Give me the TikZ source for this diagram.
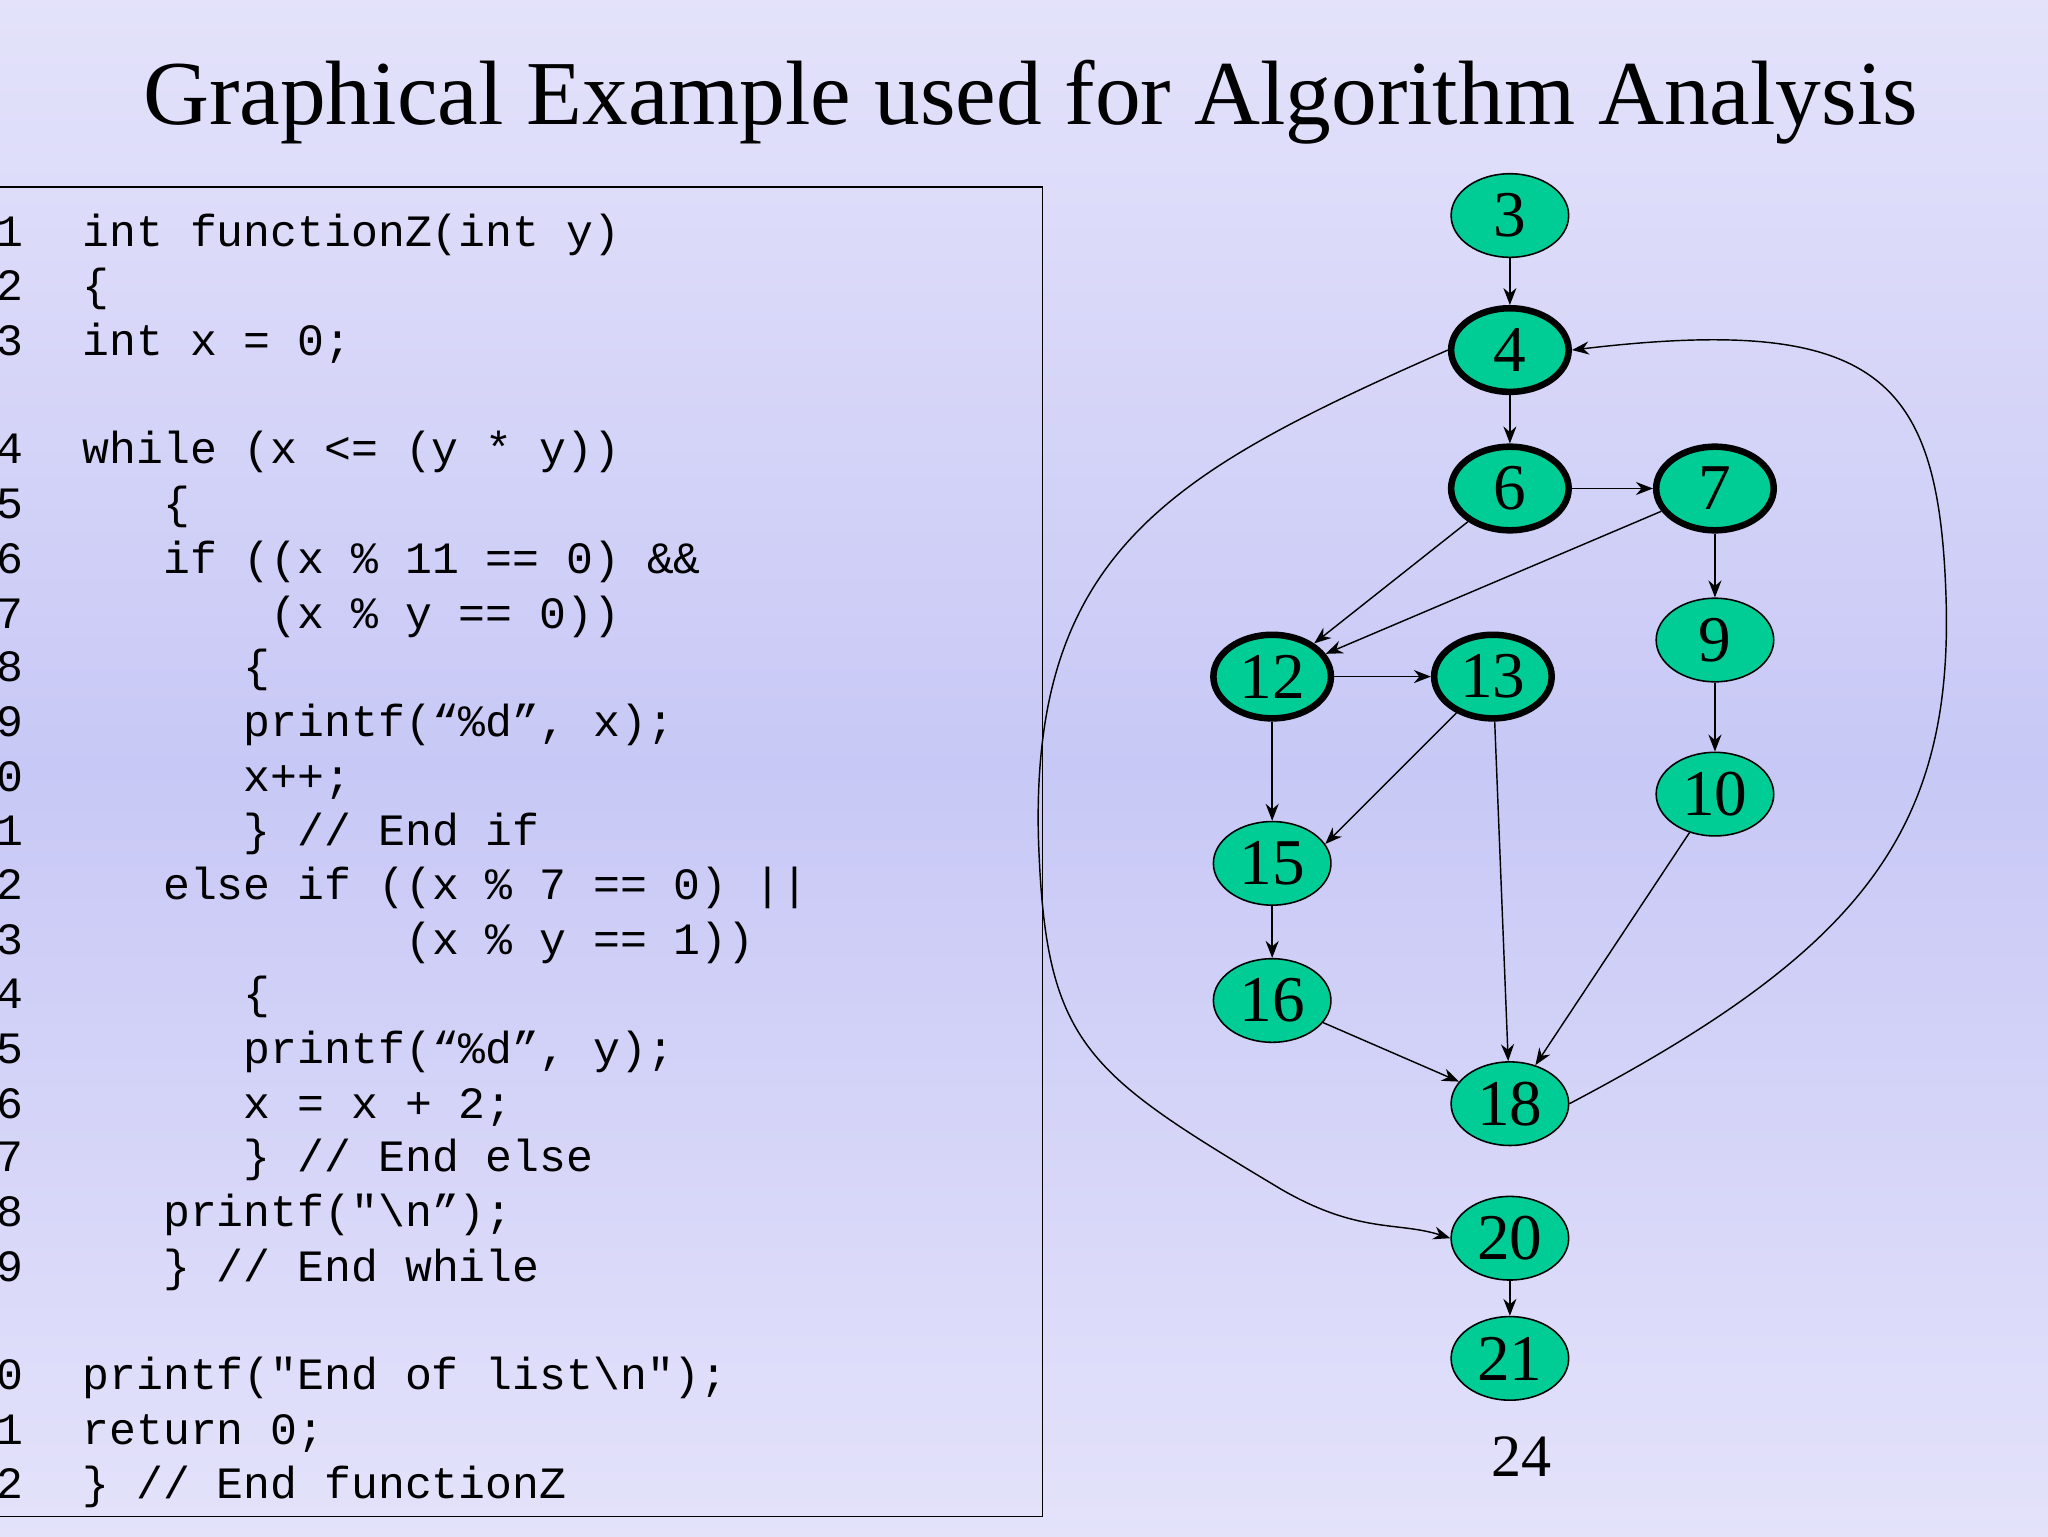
\documentclass[tikz,border=0pt]{standalone}
\usepackage{fontspec}
\setmainfont{Liberation Serif}
\setmonofont{Liberation Mono}
\usetikzlibrary{shapes.geometric,arrows.meta}
\definecolor{bgA}{HTML}{F2F0FD}
\definecolor{bgB}{HTML}{C8C8F6}
\definecolor{nodegreen}{HTML}{00CC96}
\begin{document}
\begin{tikzpicture}[x=1pt,y=-1pt,
  nd/.style={ellipse,draw,fill=nodegreen,minimum width=90pt,minimum height=64pt,inner sep=0pt,font=\fontsize{50}{50}\selectfont,line width=1.2pt},
  thk/.style={line width=5pt,minimum width=90pt,minimum height=64pt},
  ed/.style={-{Stealth[length=13pt,width=10pt]},line width=1.1pt},
  cl/.style={anchor=base west,font=\ttfamily\fontsize{34.3}{34}\selectfont,inner sep=0pt},
  ln/.style={anchor=base east,font=\ttfamily\fontsize{34.3}{34}\selectfont,inner sep=0pt}]
\useasboundingbox (0,0) rectangle (1568,1176);
\shade[shading angle=150,top color=bgA,bottom color=bgA,middle color=bgB] (-300,-300) rectangle (1868,1476);
\node[font=\fontsize{70}{70}\selectfont,anchor=base] (title) at (789,95) {Graphical Example used for Algorithm Analysis};
\draw[line width=1.2pt] (-5,143) rectangle (798,1161);
\foreach \n/\y/\t in {1/189/{int functionZ(int y)},2/230/{\{},3/272/{int x = 0;},
 4/355/{while (x <= (y * y))},5/397/{\ \ \ \{},6/439/{\ \ \ if ((x \% 11 == 0) \&\&},
 7/481/{\ \ \ \ \ \ \ (x \% y == 0))},8/522/{\ \ \ \ \ \ \{},9/564/{\ \ \ \ \ \ printf(“\%d”, x);},
 10/606/{\ \ \ \ \ \ x++;},11/647/{\ \ \ \ \ \ \} // End if},12/689/{\ \ \ else if ((x \% 7 == 0) ||},
 13/731/{\ \ \ \ \ \ \ \ \ \ \ \ (x \% y == 1))},14/772/{\ \ \ \ \ \ \{},15/814/{\ \ \ \ \ \ printf(“\%d”, y);},
 16/856/{\ \ \ \ \ \ x = x + 2;},17/897/{\ \ \ \ \ \ \} // End else},18/939/{\ \ \ printf("\textbackslash n”);},
 19/981/{\ \ \ \} // End while},20/1064/{printf("End of list\textbackslash n");},21/1106/{return 0;},22/1147/{\} // End functionZ}}
 {\node[ln] (l\n) at (18,\y) {\n}; \node[cl] (c\n) at (63,\y) {\t};}
\node[nd] (n3) at (1156,165) {3};
\node[nd,thk] (n4) at (1156,268) {4};
\node[nd,thk] (n6) at (1156,374) {6};
\node[nd,thk] (n7) at (1313,374) {7};
\node[nd] (n9) at (1313,490) {9};
\node[nd] (n10) at (1313,608) {10};
\node[nd,thk] (n12) at (974,518) {12};
\node[nd,thk] (n13) at (1143,518) {13};
\node[nd] (n15) at (974,661) {15};
\node[nd] (n16) at (974,766) {16};
\node[nd] (n18) at (1156,845) {18};
\node[nd] (n20) at (1156,948) {20};
\node[nd] (n21) at (1156,1040) {21};
\node[font=\fontsize{46}{46}\selectfont] (pg) at (1165,1115) {24};
\draw[ed] (n3) -- (n4);
\draw[ed] (n4) -- (n6);
\draw[ed] (n6) -- (n7);
\draw[ed] (n6) -- (n12);
\draw[ed] (n7) -- (n12);
\draw[ed] (n7) -- (n9);
\draw[ed] (n9) -- (n10);
\draw[ed] (n12) -- (n13);
\draw[ed] (n12) -- (n15);
\draw[ed] (n13) -- (n15.20);
\draw[ed] (n13) -- (n18);
\draw[ed] (n10) -- (n18);
\draw[ed] (n15) -- (n16);
\draw[ed] (n16) -- (n18);
\draw[ed] (n20) -- (n21);
\draw[ed] (n18.east) .. controls (1420,730) and (1495,640) .. (1490,460)
  .. controls (1485,290) and (1440,240) .. (n4.east);
\draw[ed] (n4.west) .. controls (900,360) and (790,420) .. (795,640)
  .. controls (800,800) and (830,820) .. (980,910)
  .. controls (1040,945) and (1070,935) .. (n20.west);
\end{tikzpicture}
\end{document}
